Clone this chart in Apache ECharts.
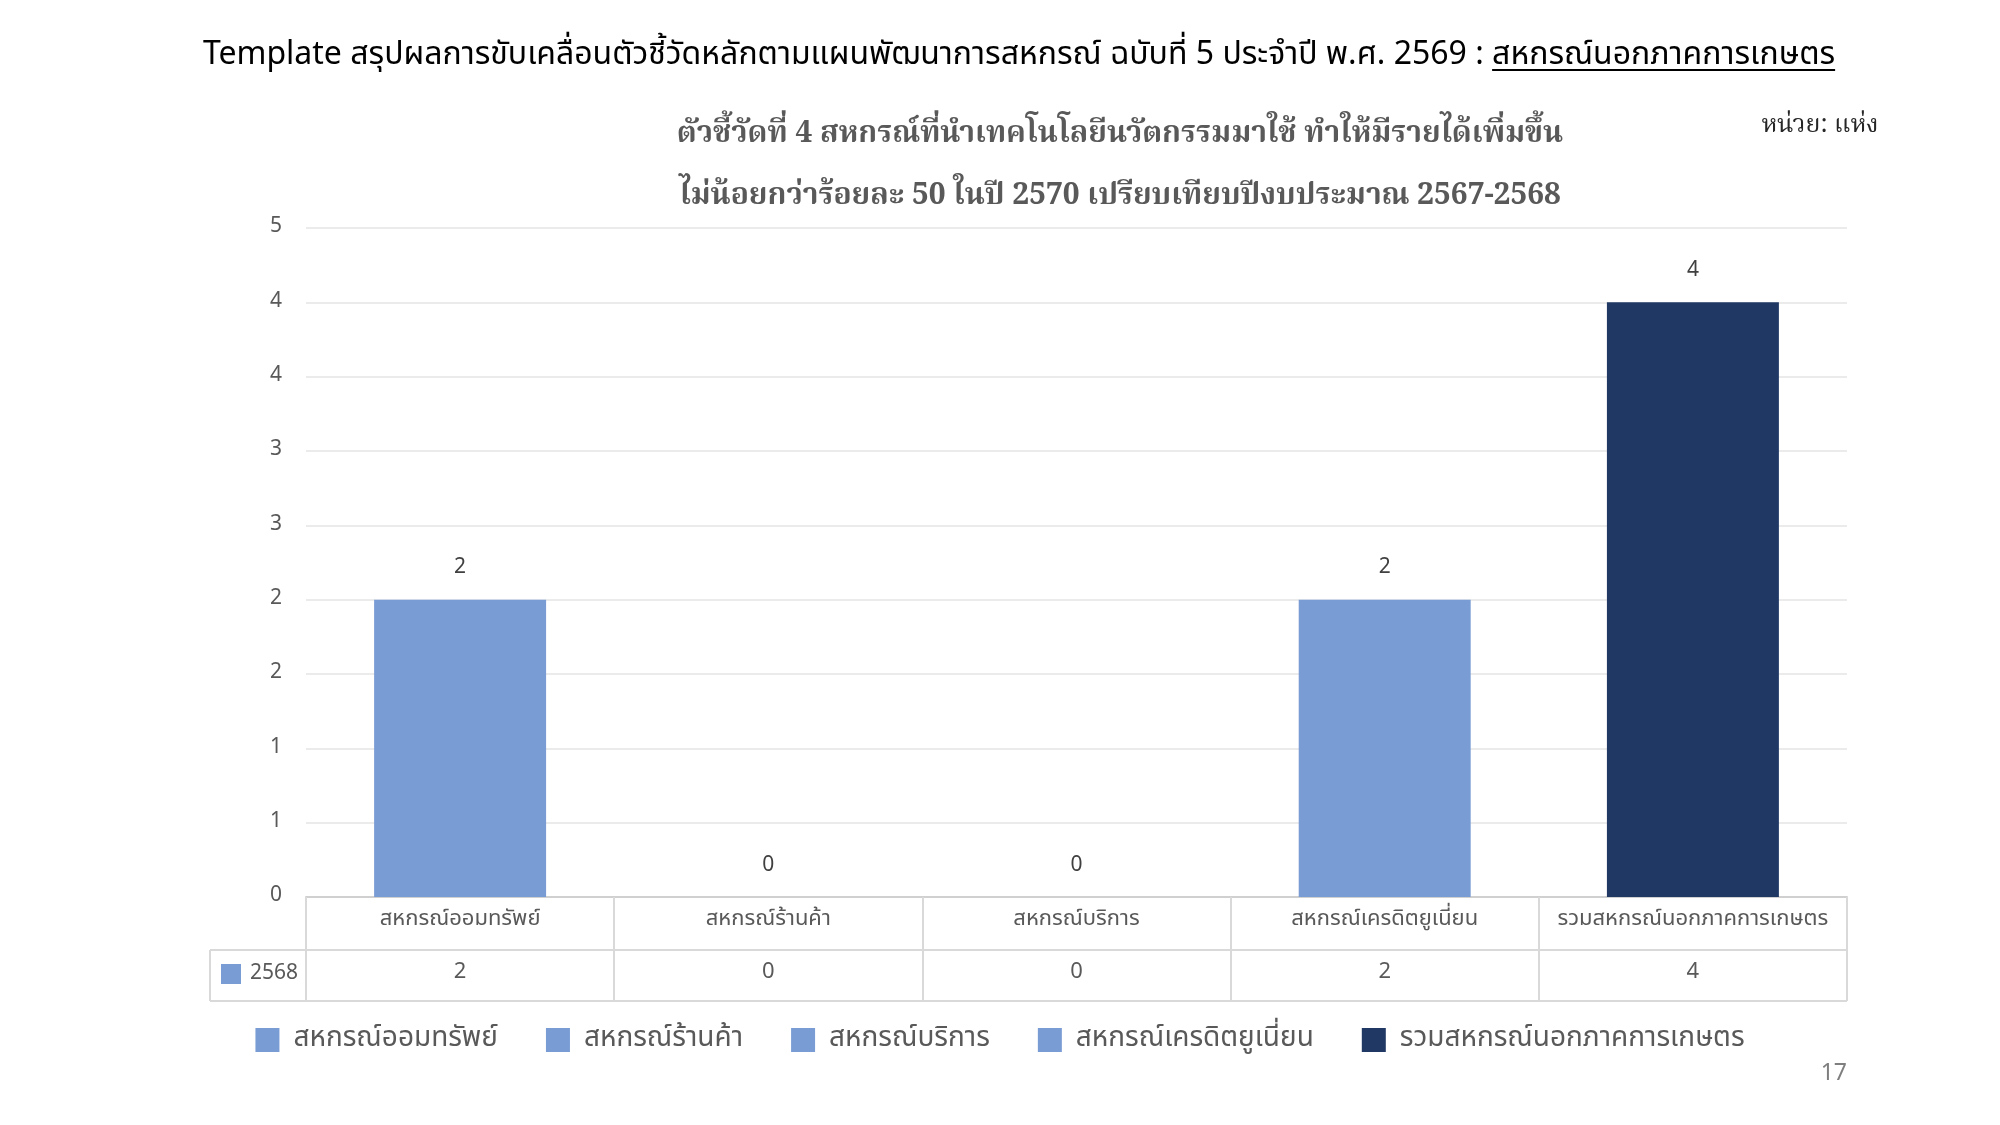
<!DOCTYPE html>
<html>
<head>
<meta charset="utf-8">
<script src="https://cdn.jsdelivr.net/npm/echarts@6/dist/echarts.min.js"></script>
<style>
html,body{margin:0;padding:0;background:#fff;}
#chart{width:2000px;height:1125px;}
</style>
</head>
<body>
<div id="chart"></div>
<script>
// ---- data ----
const categories = ['สหกรณ์ออมทรัพย์', 'สหกรณ์ร้านค้า', 'สหกรณ์บริการ', 'สหกรณ์เครดิตยูเนี่ยน', 'รวมสหกรณ์นอกภาคการเกษตร'];
const values2568 = [2, 0, 0, 2, 4];
const seriesYear = '2568';
const yTicks = [0, 0.5, 1, 1.5, 2, 2.5, 3, 3.5, 4, 4.5];
const titleMainText = 'Template สรุปผลการขับเคลื่อนตัวชี้วัดหลักตามแผนพัฒนาการสหกรณ์ ฉบับที่ 5 ประจำปี พ.ศ. 2569 : ';
const titleUnderText = 'สหกรณ์นอกภาคการเกษตร';
const chartTitleLines = ['ตัวชี้วัดที่ 4 สหกรณ์ที่นำเทคโนโลยีนวัตกรรมมาใช้ ทำให้มีรายได้เพิ่มขึ้น', 'ไม่น้อยกว่าร้อยละ 50 ในปี 2570 เปรียบเทียบปีงบประมาณ 2567-2568'];
const unitText = 'หน่วย: แห่ง';
const pageNumber = '17';

// ---- style ----
const barColors = ['#7A9CD4', '#7A9CD4', '#7A9CD4', '#7A9CD4', '#203864'];
const sansFont = "Tahoma, 'Noto Sans Thai', 'Noto Sans', sans-serif";
const serifFont = "'Noto Serif Thai', 'Liberation Serif', serif";
const gridL = 306, gridR = 1847, gridT = 228, gridB = 897;
const lineColor = '#D9D9D9';

const chart = echarts.init(document.getElementById('chart'));

// measure title text for underline placement
const mctx = document.createElement('canvas').getContext('2d');
const titleFontSize = 32;
const titleFont = titleFontSize + 'px ' + sansFont;
mctx.font = titleFont;
const w1 = mctx.measureText(titleMainText).width;
const w2 = mctx.measureText(titleUnderText).width;
const titleCenter = 1019;
const tx0 = titleCenter - (w1 + w2) / 2;

const series = categories.map((name, i) => ({
  name: name,
  type: 'bar',
  stack: 'total',
  barWidth: '55.8%',
  xAxisIndex: 0,
  itemStyle: { color: barColors[i] },
  label: {
    show: true, position: 'top', distance: 20,
    color: '#404040', fontSize: 21, fontFamily: sansFont
  },
  data: values2568.map((v, j) => (j === i ? v : '-'))
}));

const option = {
  animation: false,
  backgroundColor: '#ffffff',
  grid: { left: gridL, right: 2000 - gridR, top: gridT, bottom: 1125 - gridB, containLabel: false },
  xAxis: [
    {
      type: 'category', data: categories, position: 'bottom',
      axisLine: { show: true, lineStyle: { color: '#D0D0D0', width: 2 } },
      axisTick: { show: true, length: 104, lineStyle: { color: lineColor, width: 2 } },
      axisLabel: { show: true, margin: 13, color: '#595959', fontSize: 22, fontFamily: sansFont, interval: 0 }
    },
    {
      type: 'category', data: categories, position: 'bottom', offset: 66,
      axisLine: { show: false }, axisTick: { show: false },
      axisLabel: {
        show: true, margin: 0, color: '#595959', fontSize: 22, fontFamily: sansFont, interval: 0,
        formatter: (v, i) => String(values2568[i])
      }
    }
  ],
  yAxis: {
    type: 'value', min: yTicks[0], max: yTicks[yTicks.length - 1], interval: yTicks[1] - yTicks[0],
    axisLine: { show: false }, axisTick: { show: false },
    splitLine: { lineStyle: { color: '#EBEBEB', width: 2 } },
    axisLabel: { color: '#595959', fontSize: 21, fontFamily: sansFont, margin: 24,
      formatter: v => String(Math.round(v)) }
  },
  legend: {
    show: true, left: 'center', top: 1021,
    icon: 'rect', itemWidth: 24, itemHeight: 24, itemGap: 48,
    textStyle: { color: '#595959', fontSize: 28, fontFamily: sansFont, padding: [0, 0, 0, 9] },
    data: categories
  },
  graphic: [
    // main title
    { type: 'text', x: tx0, y: 58,
      style: { text: titleMainText, fill: '#000000', font: titleFont, textAlign: 'left', textVerticalAlign: 'middle' } },
    { type: 'text', x: tx0 + w1, y: 58,
      style: { text: titleUnderText, fill: '#000000', font: titleFont, textAlign: 'left', textVerticalAlign: 'middle' } },
    { type: 'line', shape: { x1: tx0 + w1, y1: 70, x2: tx0 + w1 + w2, y2: 70 },
      style: { stroke: '#000000', lineWidth: 2 } },
    // chart title
    { type: 'text', x: 1120, y: 137,
      style: { text: chartTitleLines[0], fill: '#595959', font: 'bold 30px ' + serifFont, textAlign: 'center', textVerticalAlign: 'middle' } },
    { type: 'text', x: 1120, y: 199,
      style: { text: chartTitleLines[1], fill: '#595959', font: 'bold 30px ' + serifFont, textAlign: 'center', textVerticalAlign: 'middle' } },
    // unit
    { type: 'text', x: 1820, y: 128,
      style: { text: unitText, fill: '#262626', font: '25px ' + serifFont, textAlign: 'center', textVerticalAlign: 'middle' } },
    // table lines
    { type: 'line', shape: { x1: 210, y1: 950, x2: gridR, y2: 950 }, style: { stroke: lineColor, lineWidth: 2 } },
    { type: 'line', shape: { x1: 210, y1: 1001, x2: gridR, y2: 1001 }, style: { stroke: lineColor, lineWidth: 2 } },
    { type: 'line', shape: { x1: 210, y1: 950, x2: 210, y2: 1001 }, style: { stroke: lineColor, lineWidth: 2 } },
    // row header
    { type: 'rect', shape: { x: 221, y: 964, width: 20, height: 20 }, style: { fill: barColors[0] } },
    { type: 'text', x: 250, y: 975,
      style: { text: seriesYear, fill: '#595959', font: '21px ' + sansFont, textAlign: 'left', textVerticalAlign: 'middle' } },
    // page number
    { type: 'text', x: 1847, y: 1075,
      style: { text: pageNumber, fill: '#7F7F7F', font: '23px ' + sansFont, textAlign: 'right', textVerticalAlign: 'middle' } }
  ],
  series: series
};
chart.setOption(option);
</script>
</body>
</html>
